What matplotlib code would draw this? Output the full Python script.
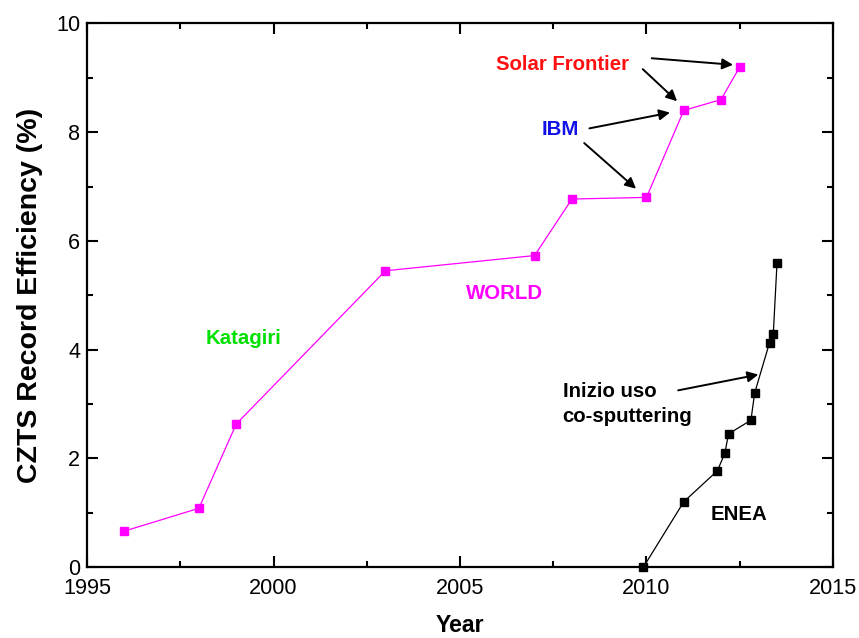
import matplotlib.pyplot as plt
from matplotlib.ticker import MultipleLocator

plt.rcParams['font.family'] = ['Liberation Sans', 'DejaVu Sans']

# world record efficiencies for CZTS cells
world_year = [1996.0, 1998.0, 1999.0, 2003.0, 2007.0, 2008.0, 2010.0, 2011.0, 2012.0, 2012.5]
world_eff = [0.66, 1.08, 2.63, 5.45, 5.73, 6.77, 6.80, 8.40, 8.60, 9.20]

# ENEA lab results
enea_year = [2009.92, 2011.0, 2011.9, 2012.1, 2012.2, 2012.8, 2012.9, 2013.3, 2013.4, 2013.5]
enea_eff = [0.0, 1.20, 1.77, 2.09, 2.45, 2.70, 3.20, 4.13, 4.29, 5.60]

fig = plt.figure(figsize=(8.59, 6.38), dpi=100)
ax = fig.add_axes([0.1013, 0.1113, 0.8684, 0.8519])

ax.plot(world_year, world_eff, color='#ff00ff', lw=0.9, marker='s', ms=5.5,
        mec='#ff00ff', mfc='#ff00ff', clip_on=False, zorder=3)
ax.plot(enea_year, enea_eff, color='black', lw=0.9, marker='s', ms=5.5,
        clip_on=False, zorder=3)

ax.set_xlim(1995, 2015)
ax.set_ylim(0, 10)
ax.xaxis.set_major_locator(MultipleLocator(5))
ax.xaxis.set_minor_locator(MultipleLocator(2.5))
ax.yaxis.set_major_locator(MultipleLocator(2))
ax.yaxis.set_minor_locator(MultipleLocator(1))
ax.tick_params(which='both', direction='in', top=True, right=True,
               labeltop=False, labelright=False, width=1.5, labelsize=15.6)
ax.tick_params(axis='x', pad=8)
ax.tick_params(axis='y', pad=5)
ax.tick_params(which='major', length=8)
ax.tick_params(which='minor', length=4)
for s in ax.spines.values():
    s.set_linewidth(1.6)

ax.set_xlabel('Year', fontsize=16.6, fontweight='bold', labelpad=11)
ax.set_ylabel('CZTS Record Efficiency (%)', fontsize=20.5, fontweight='bold', labelpad=9)

fs = 14.7
ax.text(1999.2, 4.21, 'Katagiri', color='#00e000', fontsize=fs, fontweight='bold',
        ha='center', va='center')
ax.text(2006.2, 5.04, 'WORLD', color='#ff00ff', fontsize=fs, fontweight='bold',
        ha='center', va='center')
ax.text(2007.69, 8.05, 'IBM', color='#1010e8', fontsize=fs, fontweight='bold',
        ha='center', va='center')
ax.text(2007.75, 9.25, 'Solar Frontier', color='#ff1010', fontsize=fs, fontweight='bold',
        ha='center', va='center')
ax.text(2007.75, 3.0, 'Inizio uso\nco-sputtering', color='black', fontsize=fs,
        fontweight='bold', ha='left', va='center', linespacing=1.4)
ax.text(2012.48, 0.96, 'ENEA', color='black', fontsize=fs, fontweight='bold',
        ha='center', va='center')

arrows = [
    ((2010.14, 9.36), (2012.32, 9.24)),
    ((2009.90, 9.16), (2010.82, 8.57)),
    ((2008.47, 8.07), (2010.63, 8.36)),
    ((2008.33, 7.80), (2009.72, 6.96)),
    ((2010.85, 3.25), (2013.00, 3.54)),
]
for start, end in arrows:
    ax.annotate('', xy=end, xytext=start,
                arrowprops=dict(arrowstyle='-|>', color='black', lw=1.4,
                                mutation_scale=16, shrinkA=0, shrinkB=0))

fig.savefig('out.png', dpi=100)
